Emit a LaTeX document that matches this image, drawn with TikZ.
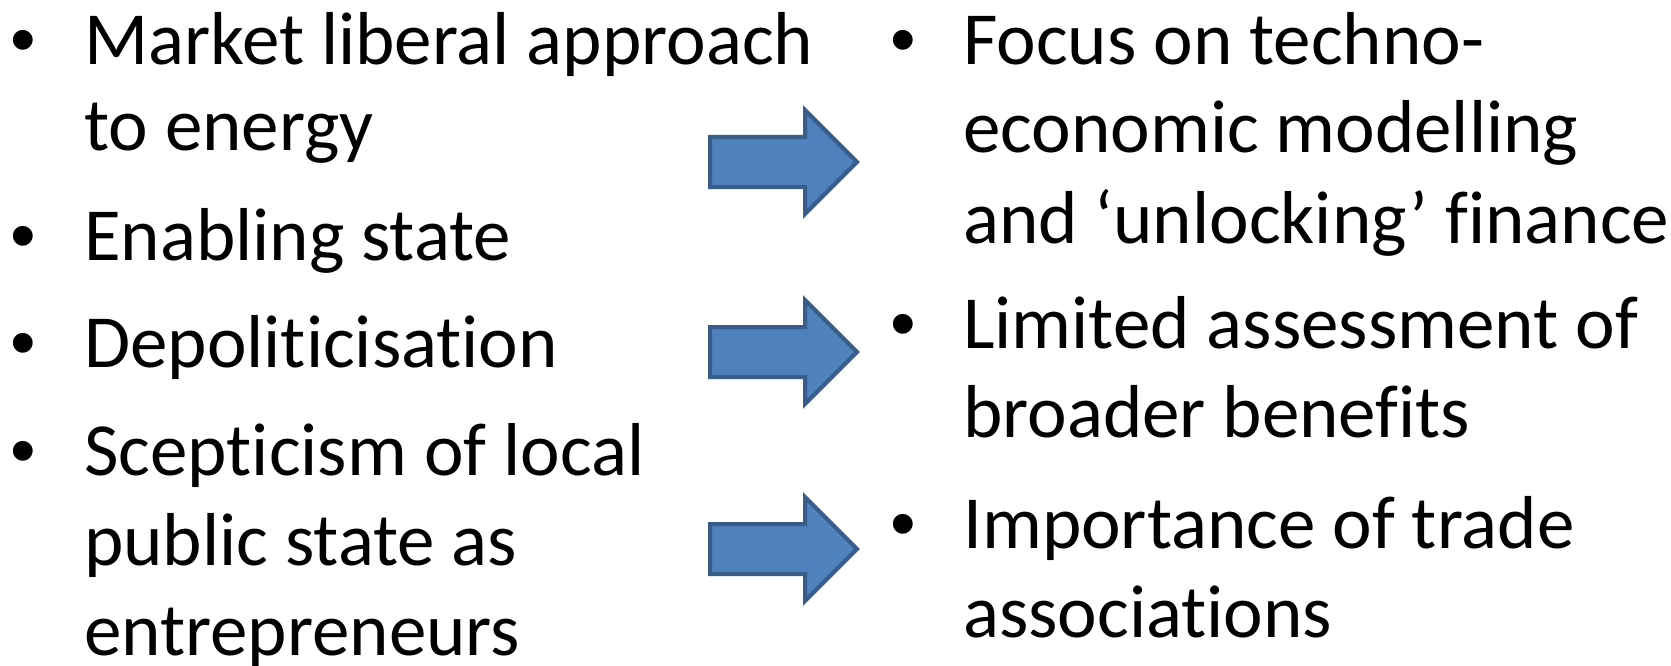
\documentclass[tikz,border=0pt]{standalone}
\usepackage{fontspec}
\setmainfont{Carlito}[Ligatures={NoCommon,NoContextual}]
\newfontfamily\bulletfont{Liberation Sans}
\definecolor{arrowfill}{HTML}{4F81BD}
\definecolor{arrowline}{HTML}{385D8A}
\begin{document}
\begin{tikzpicture}[x=1pt,y=-1pt,
  line/.style={anchor=base west,inner sep=0pt,font=\fontsize{75}{90}\selectfont},
  bul/.style={anchor=base,inner sep=0pt,font=\fontsize{73}{88}\bulletfont},
  blockarrow/.style={fill=arrowfill,draw=arrowline,line width=4pt,line join=miter}]
\useasboundingbox (0,0) rectangle (1671,666);
% left column
\node[bul] (lb1) at (23.5,65) {•};
\node[line] (l1) at (84,65) {Market liberal approach};
\node[line] (l2) at (84,151) {to energy};
\node[bul] (lb2) at (23.5,260) {•};
\node[line] (l3) at (84,260) {Enabling state};
\node[bul] (lb3) at (23.5,367) {•};
\node[line] (l4) at (84,367) {Depoliticisation};
\node[bul] (lb4) at (23.5,475) {•};
\node[line] (l5) at (84,475) {Scepticism of local};
\node[line] (l6) at (84,565) {public state as};
\node[line] (l7) at (84,655) {entrepreneurs};
% right column
\node[bul] (rb1) at (903.5,65) {•};
\node[line] (r1) at (963,65) {Focus on techno-};
\node[line] (r2) at (963,153) {economic modelling};
\node[line] (r3) at (963,243) {and ‘unlocking’ finance};
\node[bul] (rb2) at (903.5,348) {•};
\node[line] (r4) at (963,348) {Limited assessment of};
\node[line] (r5) at (963,437) {broader benefits};
\node[bul] (rb3) at (903.5,548) {•};
\node[line] (r6) at (963,548) {Importance of trade};
\node[line] (r7) at (963,637) {associations};
% block arrows
\foreach \cy in {162,352,549}{
  \draw[blockarrow] (710,\cy-25) -- (805,\cy-25) -- (805,\cy-52) -- (857,\cy)
    -- (805,\cy+52) -- (805,\cy+25) -- (710,\cy+25) -- cycle;
}
\end{tikzpicture}
\end{document}
